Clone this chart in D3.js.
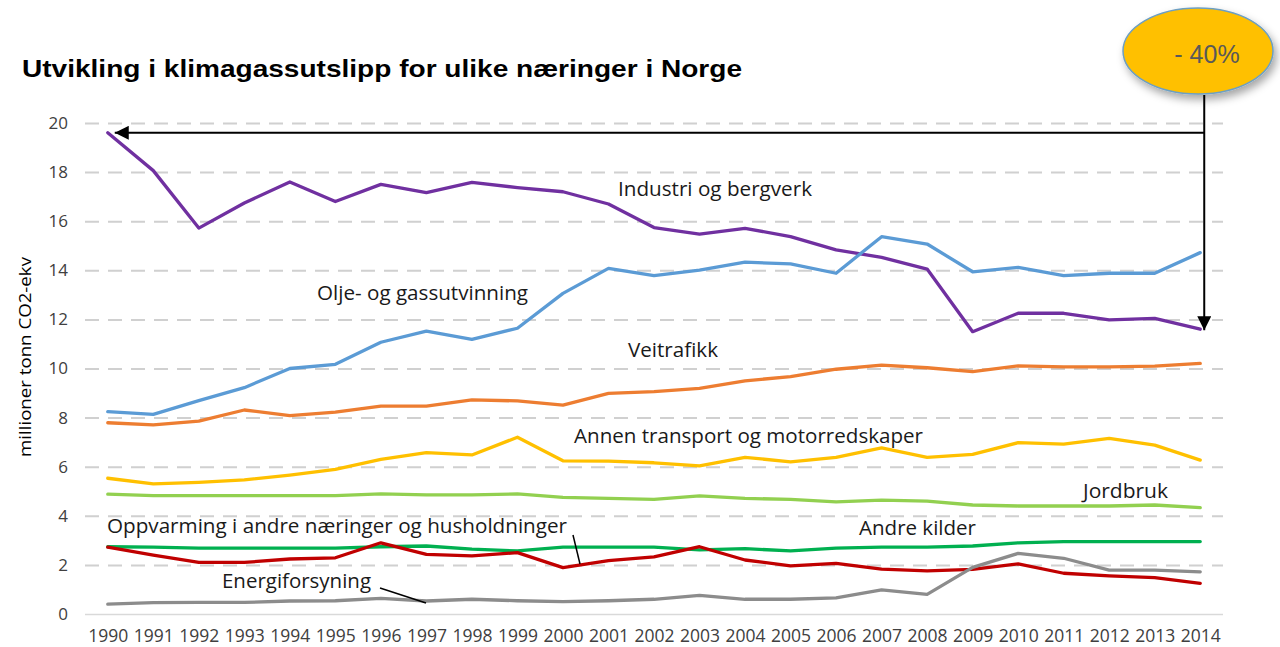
<!DOCTYPE html>
<html><head><meta charset="utf-8">
<script src="https://cdn.jsdelivr.net/npm/d3@7"></script>
<style>
html,body{margin:0;padding:0;background:#fff;}
svg{display:block;}
</style></head>
<body>
<svg id="chart" width="1280" height="647"></svg>
<script>
const years = [1990,1991,1992,1993,1994,1995,1996,1997,1998,1999,2000,2001,2002,2003,2004,2005,2006,2007,2008,2009,2010,2011,2012,2013,2014];
const yTicks = [0,2,4,6,8,10,12,14,16,18,20];

const industri = [19.6,18.06,15.72,16.74,17.6,16.8,17.5,17.16,17.58,17.37,17.2,16.7,15.74,15.47,15.71,15.37,14.83,14.53,14.05,11.5,12.25,12.25,11.98,12.04,11.6];
const olje     = [8.24,8.13,8.69,9.22,10.0,10.17,11.07,11.52,11.19,11.64,13.06,14.08,13.78,14.01,14.33,14.26,13.88,15.37,15.07,13.94,14.12,13.78,13.88,13.88,14.72];
const vei      = [7.79,7.7,7.86,8.31,8.08,8.22,8.47,8.47,8.72,8.68,8.51,8.99,9.06,9.19,9.5,9.67,9.97,10.14,10.03,9.87,10.11,10.07,10.07,10.1,10.21];
const annen    = [5.53,5.3,5.36,5.46,5.66,5.89,6.3,6.57,6.48,7.2,6.24,6.23,6.16,6.03,6.38,6.2,6.38,6.77,6.38,6.5,6.98,6.92,7.15,6.88,6.27];
const jordbruk = [4.88,4.82,4.82,4.82,4.82,4.82,4.89,4.85,4.85,4.89,4.75,4.71,4.67,4.81,4.71,4.67,4.57,4.64,4.6,4.44,4.4,4.4,4.4,4.44,4.33];
const andre    = [2.74,2.72,2.68,2.68,2.68,2.68,2.74,2.77,2.64,2.57,2.72,2.72,2.72,2.61,2.66,2.57,2.68,2.72,2.72,2.77,2.9,2.95,2.95,2.95,2.95];
const oppvarm  = [2.72,2.4,2.1,2.1,2.24,2.29,2.9,2.43,2.37,2.5,1.89,2.17,2.33,2.74,2.2,1.96,2.06,1.83,1.76,1.82,2.04,1.66,1.55,1.48,1.25];
const energi   = [0.4,0.46,0.47,0.47,0.53,0.54,0.64,0.53,0.6,0.54,0.5,0.54,0.6,0.76,0.6,0.6,0.66,0.98,0.8,1.9,2.47,2.27,1.79,1.79,1.72];

const seriesNames = ["Industri og bergverk","Olje- og gassutvinning","Veitrafikk","Annen transport og motorredskaper","Jordbruk","Andre kilder","Oppvarming i andre næringer og husholdninger","Energiforsyning"];
const seriesValues = [industri, olje, vei, annen, jordbruk, andre, oppvarm, energi];
const seriesColors = ["#7030a0","#5b9bd5","#ed7d31","#ffc000","#92d050","#00b050","#c00000","#8c8c8c"];

const titleText = "Utvikling i klimagassutslipp for ulike næringer i Norge";
const yTitle = "millioner tonn CO2-ekv";
const badgeText = "- 40%";

// label placement: [x, baseline y, width]
const labelPos = [
  [618,196,194],
  [317,300,211],
  [628,357,90],
  [574,443,349],
  [1083,498,85],
  [859,535,117],
  [107,533,460],
  [222,588,149]
];

const svg = d3.select("#chart");
const pLeft = 85, pRight = 1223, pTop = 123, pBottom = 614;

const x = d3.scalePoint().domain(years).range([pLeft, pRight]).padding(0.5);
const y = d3.scaleLinear().domain([0,20]).range([pBottom, pTop]);

const defs = svg.append("defs");
const f = defs.append("filter").attr("id","sh").attr("x","-30%").attr("y","-30%").attr("width","170%").attr("height","170%");
f.append("feDropShadow").attr("dx",3).attr("dy",5).attr("stdDeviation",4).attr("flood-color","#000").attr("flood-opacity",0.35);
defs.append("marker").attr("id","ah").attr("viewBox","0 0 10 10").attr("refX",10).attr("refY",5)
  .attr("markerWidth",7.5).attr("markerHeight",7).attr("markerUnits","strokeWidth").attr("orient","auto-start-reverse")
  .append("path").attr("d","M0,0 L10,5 L0,10 Z").attr("fill","#000");

// gridlines
const yAxis = d3.axisLeft(y).tickValues(yTicks).tickSize(-(pRight-pLeft)).tickFormat(d3.format("d"));
const gy = svg.append("g").attr("transform",`translate(${pLeft},0)`).call(yAxis);
gy.select(".domain").remove();
gy.selectAll(".tick line")
  .attr("stroke", "#d0d0d0")
  .attr("stroke-width", 2)
  .attr("stroke-dasharray", d => d === 0 ? null : "14,9");
gy.selectAll(".tick line").filter(d=>d===0).attr("stroke","#d9d9d9").attr("stroke-width",1.5);
gy.selectAll(".tick text").attr("x",-17).attr("font-family","'Open Sans', sans-serif").attr("font-size","17px").attr("fill","#404040");

// x axis labels
const xAxis = d3.axisBottom(x).tickSize(0).tickPadding(0);
const gx = svg.append("g").attr("transform",`translate(0,${pBottom})`).call(xAxis);
gx.select(".domain").remove();
gx.selectAll(".tick text").attr("y",null).attr("dy",null).attr("transform","translate(0,28)")
  .attr("font-family","'Open Sans', sans-serif").attr("font-size","17.5px").attr("fill","#404040");

// y title
svg.append("text").attr("transform","translate(31,357) rotate(-90)").attr("text-anchor","middle")
  .attr("font-family","'Open Sans', sans-serif").attr("font-size","16px").attr("fill","#000")
  .attr("textLength",200).attr("lengthAdjust","spacingAndGlyphs").text(yTitle);

// lines
const line = d3.line().x((d,i)=>x(years[i])).y(d=>y(d));
svg.append("g").selectAll("path").data(seriesValues).join("path")
  .attr("d", d=>line(d)).attr("fill","none")
  .attr("stroke",(d,i)=>seriesColors[i]).attr("stroke-width",3.3)
  .attr("stroke-linejoin","round").attr("stroke-linecap","round");

// labels
svg.append("g").selectAll("text").data(seriesNames).join("text")
  .attr("x",(d,i)=>labelPos[i][0]).attr("y",(d,i)=>labelPos[i][1])
  .attr("textLength",(d,i)=>labelPos[i][2]).attr("lengthAdjust","spacingAndGlyphs")
  .attr("font-family","'Open Sans', sans-serif").attr("font-size","20px").attr("fill","#1a1a1a")
  .text(d=>d);

// leader lines
svg.append("line").attr("x1",380).attr("y1",588).attr("x2",426).attr("y2",603).attr("stroke","#000").attr("stroke-width",1.5);
svg.append("line").attr("x1",573).attr("y1",535).attr("x2",580).attr("y2",564).attr("stroke","#000").attr("stroke-width",1.5);

// title
svg.append("text").attr("x",22).attr("y",77).attr("font-family","'Liberation Sans', Arial, sans-serif")
  .attr("font-weight","bold").attr("font-size","24px").attr("fill","#000")
  .attr("textLength",720).attr("lengthAdjust","spacingAndGlyphs").text(titleText);

// arrows
const ax = x(2014) + 4;
const ay = y(industri[0]);
svg.append("line").attr("x1",ax).attr("y1",ay).attr("x2",x(1990)+7).attr("y2",ay)
  .attr("stroke","#000").attr("stroke-width",2).attr("marker-end","url(#ah)");
svg.append("line").attr("x1",ax).attr("y1",95).attr("x2",ax).attr("y2",y(industri[industri.length-1])+1)
  .attr("stroke","#000").attr("stroke-width",2).attr("marker-end","url(#ah)");

// badge
svg.append("ellipse").attr("cx",1198).attr("cy",51).attr("rx",75).attr("ry",43)
  .attr("fill","#ffc000").attr("stroke","#6d9fc2").attr("stroke-width",1.5).attr("filter","url(#sh)");
svg.append("text").attr("x",1207).attr("y",63).attr("text-anchor","middle")
  .attr("font-family","'Liberation Sans', Arial, sans-serif").attr("font-size","25px").attr("fill","#595959")
  .text(badgeText);
</script>
</body></html>
